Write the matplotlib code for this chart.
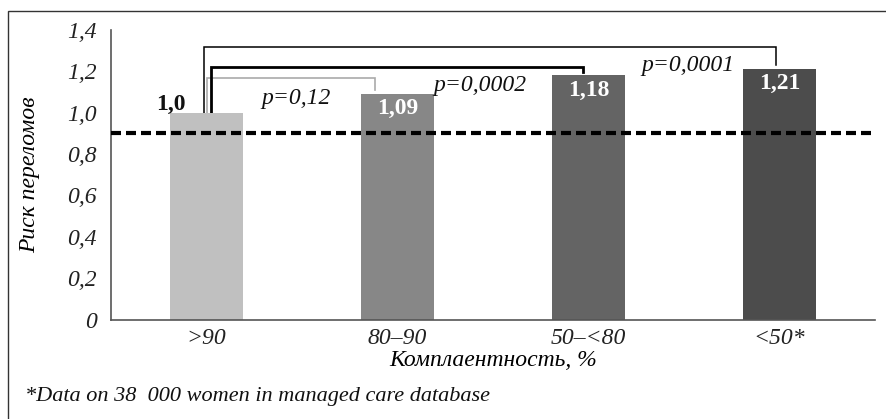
import matplotlib.pyplot as plt
from matplotlib.patches import Rectangle

# Data
categories = [">90", "80–90", "50–<80", "<50*"]
risk = [1.0, 1.09, 1.18, 1.21]
value_labels = ["1,0", "1,09", "1,18", "1,21"]
bar_colors = ["#c0c0c0", "#878787", "#646464", "#4c4c4c"]
yticks = [0, 0.2, 0.4, 0.6, 0.8, 1.0, 1.2, 1.4]
ytick_labels = ["0", "0,2", "0,4", "0,6", "0,8", "1,0", "1,2", "1,4"]
reference_line = 0.9
# comparisons: (from bar, to bar, p text)
comparisons = [(0, 1, "p=0,12"), (0, 2, "p=0,0002"), (0, 3, "p=0,0001")]

plt.rcParams["font.family"] = ["Liberation Serif", "DejaVu Serif"]

fig = plt.figure(figsize=(8.87, 4.19), dpi=100)
ax = fig.add_axes([111 / 887, 1 - 319.5 / 419, 764 / 887, 289.5 / 419])

x = list(range(len(categories)))
ax.bar(x, risk, width=0.38, color=bar_colors, zorder=2)

ax.set_xlim(-0.5, 3.5)
ax.set_ylim(0, 1.4)
ax.set_yticks(yticks)
ax.set_yticklabels(ytick_labels, fontstyle="italic", fontsize=17)
ax.set_xticks(x)
ax.set_xticklabels(categories, fontstyle="italic", fontsize=17)
ax.tick_params(length=0, colors="#222222")
ax.tick_params(axis="y", pad=10)
ax.tick_params(axis="x", pad=6)
for s in ["top", "right"]:
    ax.spines[s].set_visible(False)
for s in ["left", "bottom"]:
    ax.spines[s].set_color("#555555")
    ax.spines[s].set_linewidth(1.2)

ax.set_ylabel("Риск переломов", fontstyle="italic", fontsize=17, labelpad=20)
ax.set_xlabel("Комплаентность, %", fontstyle="italic", fontsize=17, labelpad=1)

# reference dashed line
ax.axhline(reference_line, color="black", lw=3, dashes=(2.4, 1.2), zorder=3)

# value labels
ax.text(x[0] - 0.11, risk[0] - 0.01, value_labels[0], ha="right", va="bottom",
        fontsize=17, fontweight="bold", color="#111111", zorder=4)
for i in x[1:]:
    ax.text(i, risk[i] - 0.02, value_labels[i], ha="center", va="top",
            fontsize=17, fontweight="bold", color="white", zorder=4)

# significance brackets
bracket_style = [
    dict(dx0=0.0, dx1=-0.12, top=1.168, end=1.109, color="#aaaaaa", lw=1.2,
         tx=0.47, ty=1.07),
    dict(dx0=0.025, dx1=-0.03, top=1.22, end=1.197, color="black", lw=2.0,
         tx=1.43, ty=1.13),
    dict(dx0=-0.012, dx1=-0.02, top=1.316, end=1.23, color="black", lw=1.1,
         tx=2.52, ty=1.23),
]
for (a, b, ptxt), st in zip(comparisons, bracket_style):
    x0 = a + st["dx0"]
    x1 = b + st["dx1"]
    ax.plot([x0, x0, x1, x1], [risk[a], st["top"], st["top"], st["end"]],
            color=st["color"], lw=st["lw"], solid_joinstyle="miter", zorder=1,
            clip_on=False)
    ax.text(st["tx"], st["ty"], ptxt, ha="center", va="center",
            fontsize=17, fontstyle="italic", color="#111111", zorder=4)

# footnote
fig.text(25 / 887, 1 - 396 / 419, "*Data on 38  000 women in managed care database",
         ha="left", va="center", fontsize=16, fontstyle="italic", color="#111111")

# outer frame
fig.patches.append(Rectangle((8 / 887, -0.05), 1.0, 1 - 11.5 / 419 + 0.05,
                             transform=fig.transFigure, fill=False,
                             edgecolor="#333333", lw=1.0))

fig.savefig("out.png", dpi=100)
